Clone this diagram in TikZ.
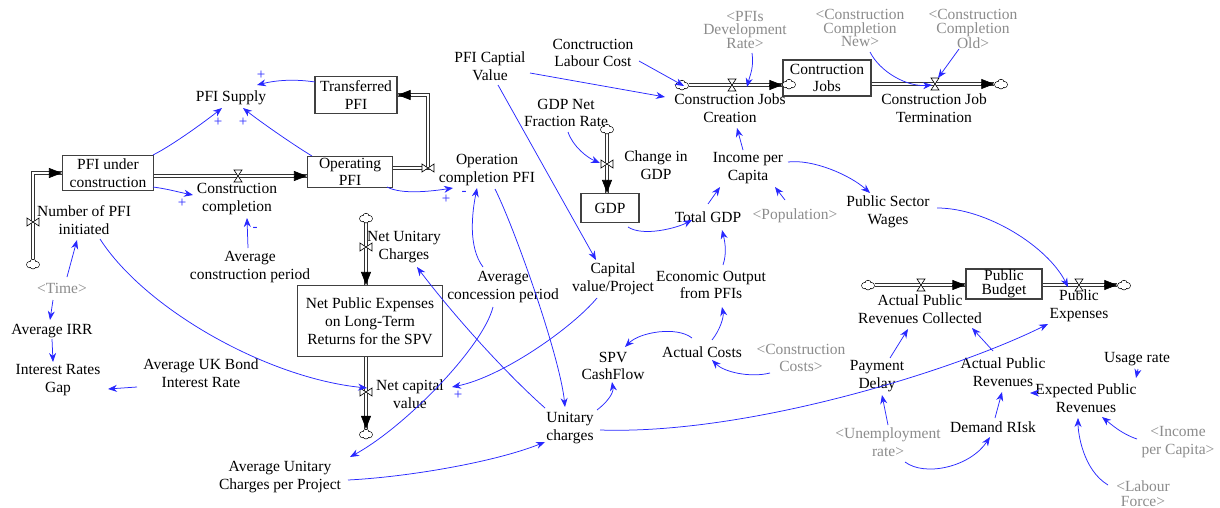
\documentclass[tikz,border=0pt]{standalone}
\usepackage{fontspec}
\setmainfont{Liberation Serif}
\usetikzlibrary{arrows.meta,calc}
\definecolor{lblue}{RGB}{40,40,255}
\definecolor{shgray}{RGB}{140,140,140}
\tikzset{
  lbl/.style={align=center,inner sep=0pt,font=\fontsize{15.5}{17.5}\selectfont},
  shd/.style={lbl,text=shgray},
  shdt/.style={shd,font=\fontsize{15.5}{13.5}\selectfont},
  stock/.style={draw=black!75,line width=1.1pt,align=center,inner sep=0pt,font=\fontsize{15.5}{17.5}\selectfont},
  lnk/.style={draw=lblue,line width=0.75pt,-{Stealth[length=9pt,width=7pt]}},
  pipe/.style={draw=black!80,line width=0.8pt,double=white,double distance=2.2pt},
  ptip/.style={draw=black,line width=0.6pt,-{Triangle[length=13pt,width=10pt]}},
  cldn/.style={shape=rectangle,inner sep=0pt,minimum width=13pt,minimum height=10pt},
  sgn/.style={text=lblue,inner sep=0pt,font=\fontsize{15}{15}\selectfont},
  hvalve/.pic={\draw[fill=white,line width=0.6pt] (-4,-6)--(4,-6)--(-4,6)--(4,6)--cycle;},
  vvalve/.pic={\draw[fill=white,line width=0.6pt] (-6,-4)--(-6,4)--(6,-4)--(6,4)--cycle;},
  cloudpic/.pic={
    \draw[line width=0.7pt,fill=white] (-3.3,0.6) circle (3.1) (0,-1.6) circle (3.1) (3.3,0.6) circle (3.1) (0,2) circle (2.9);
    \fill[white] (-3.3,0.6) circle (2.7) (0,-1.6) circle (2.7) (3.3,0.6) circle (2.7) (0,2) circle (2.5) (0,0.3) circle (2.5);},
}
\begin{document}
\begin{tikzpicture}[x=1pt,y=-1pt]
\useasboundingbox[fill=white] (0,0) rectangle (1220,508);
% stocks
\node[stock,minimum width=91pt,minimum height=35pt] (pfiuc) at (108,173) {PFI under\\construction};
\node[stock,minimum width=85pt,minimum height=31pt] (opfi) at (350,172) {Operating\\PFI};
\node[stock,minimum width=82pt,minimum height=37pt] (tpfi) at (356,95) {Transferred\\PFI};
\node[stock,minimum width=58pt,minimum height=29pt] (gdp) at (610,208) {GDP};
\node[stock,minimum width=88pt,minimum height=36pt] (cjobs) at (827,78) {Contruction\\Jobs};
\node[stock,minimum width=76pt,minimum height=30pt,font=\fontsize{15.5}{14}\selectfont] (pbud) at (1004,284) {Public\\Budget};
\node[stock,minimum width=145pt,minimum height=71pt,font=\fontsize{15.5}{18}\selectfont] (npe) at (370,321) {Net Public Expenses\\on Long-Term\\Returns for the SPV};
% labels
\node[lbl] (pfisup) at (231,98) {PFI Supply};
\node[lbl] (numpfi) at (84,220) {Number of PFI\\initiated};
\node[lbl] (ccomp) at (237,199) {Construction\\completion};
\node[lbl] (acp) at (250,267) {Average\\construction period};
\node[shd] (time) at (62,288) {<Time>};
\node[lbl] (airr) at (52,331) {Average IRR};
\node[lbl] (irg) at (58,380) {Interest Rates\\Gap};
\node[lbl] (aukb) at (201,373) {Average UK Bond\\Interest Rate};
\node[lbl] (aucp) at (280,477) {Average Unitary\\Charges per Project};
\node[lbl] (opc) at (487,170) {Operation\\completion PFI};
\node[lbl] (nuc) at (404,247) {Net Unitary\\Charges};
\node[lbl] (ncv) at (410,394) {Net capital\\value};
\node[lbl] (acon) at (503,287) {Average\\concession period};
\node[lbl] (cvp) at (613,279) {Capital\\value/Project};
\node[lbl] (pcv) at (490,66) {PFI Captial\\Value};
\node[lbl] (clc) at (593,53) {Conctruction\\Labour Cost};
\node[lbl] (gnfr) at (566,113) {GDP Net\\Fraction Rate};
\node[lbl] (cig) at (656,165) {Change in\\GDP};
\node[shdt] (pdr) at (745,30) {<PFIs\\Development\\Rate>};
\node[lbl] (cjc) at (730,108) {Construction Jobs\\Creation};
\node[lbl] (ipc) at (748,168) {Income per\\Capita};
\node[lbl] (tgdp) at (708,217) {Total GDP};
\node[shd] (pop) at (795,216) {<Population>};
\node[lbl] (psw) at (888,212) {Public Sector\\Wages};
\node[shdt] (ccn) at (860,28) {<Construction\\Completion\\New>};
\node[shdt] (cco) at (973,29) {<Construction\\Completion\\Old>};
\node[lbl] (cjt) at (934,108) {Construction Job\\Termination};
\node[lbl] (eop) at (711,285) {Economic Output\\from PFIs};
\node[lbl] (spv) at (613,366) {SPV\\CashFlow};
\node[lbl] (acost) at (702,352) {Actual Costs};
\node[shd] (ccost) at (801,358) {<Construction\\Costs>};
\node[lbl] (uch) at (570,428) {Unitary\\charges};
\node[lbl] (aprc) at (920,309) {Actual Public\\Revenues Collected};
\node[lbl] (pexp) at (1079,306) {Public\\Expenses};
\node[lbl] (pdel) at (877,376) {Payment\\Delay};
\node[lbl] (apr) at (1003,372) {Actual Public\\Revenues};
\node[lbl] (usage) at (1137,359) {Usage rate};
\node[lbl] (epr) at (1086,398) {Expected Public\\Revenues};
\node[lbl] (drisk) at (993,427) {Demand RIsk};
\node[shd] (unemp) at (888,442) {<Unemployment\\rate>};
\node[shd] (ipc2) at (1178,442) {<Income\\per Capita>};
\node[shd,font=\fontsize{15.5}{15}\selectfont] (labour) at (1143,494) {<Labour\\Force>};
% clouds and valve points
\node[cldn] (c1) at (33,264) {};
\node[cldn] (c4) at (366,218) {};
\node[cldn] (c5) at (366,434) {};
\node[cldn] (c6) at (607,129) {};
\node[cldn] (c7) at (682,85) {};
\node[cldn] (c8) at (1001,84) {};
\node[cldn] (c9) at (868,285) {};
\node[cldn] (c10) at (1124,285) {};
\node[cldn] (c7b) at (789,84) {};
\coordinate (v1) at (33,222);
\coordinate (v2) at (238,176);
\coordinate (v3) at (428,168);
\coordinate (v4) at (366,247);
\coordinate (v5) at (366,392);
\coordinate (v6) at (607,164);
\coordinate (v7) at (732,85);
\coordinate (v8) at (935,84);
\coordinate (v9) at (921,285);
\coordinate (v10) at (1079,285);
% pipes
\draw[pipe] (c1.north) -- (c1.north |- pfiuc.west) -- (pfiuc.west);
\draw[ptip] ($(pfiuc.west)+(-13,0)$) -- (pfiuc.west);
\draw[pipe] (pfiuc.east |- v2) -- (opfi.west |- v2);
\draw[ptip] ($(opfi.west |- v2)+(-13,0)$) -- (opfi.west |- v2);
\draw[pipe] (opfi.east |- v3) -- (v3) -- (v3 |- tpfi.east) -- (tpfi.east);
\draw[ptip] ($(tpfi.east)+(13,0)$) -- (tpfi.east);
\draw[pipe] (c4.south) -- (c4.south |- npe.north);
\draw[ptip] ($(c4.south |- npe.north)+(0,-13)$) -- (c4.south |- npe.north);
\draw[pipe] (c4.south |- npe.south) -- (c5.north);
\draw[ptip] ($(c5.north)+(0,-13)$) -- (c5.north);
\draw[pipe] (c6.south) -- (c6.south |- gdp.north);
\draw[ptip] ($(c6.south |- gdp.north)+(0,-13)$) -- (c6.south |- gdp.north);
\draw[pipe] (c7.east) -- (c7.east -| cjobs.west);
\draw[ptip] ($(c7.east -| cjobs.west)+(-13,0)$) -- (c7.east -| cjobs.west);
\draw[pipe] (c8.west -| cjobs.east) -- (c8.west);
\draw[ptip] ($(c8.west)+(-13,0)$) -- (c8.west);
\draw[pipe] (c9.east) -- (c9.east -| pbud.west);
\draw[ptip] ($(c9.east -| pbud.west)+(-13,0)$) -- (c9.east -| pbud.west);
\draw[pipe] (c10.west -| pbud.east) -- (c10.west);
\draw[ptip] ($(c10.west)+(-13,0)$) -- (c10.west);
% clouds
\foreach \c in {c1,c4,c5,c6,c7,c8,c9,c10,c7b} {\pic at (\c) {cloudpic};}
% valves
\pic at (v1) {vvalve};
\pic at (v2) {hvalve};
\pic at (v3) {vvalve};
\pic at (v4) {vvalve};
\pic at (v5) {vvalve};
\pic at (v6) {vvalve};
\pic at (v7) {hvalve};
\pic at (v8) {hvalve};
\pic at (v9) {hvalve};
\pic at (v10) {hvalve};
% links
\draw[lnk] ($(tpfi)+(-41,-13)$) .. controls +(-20,-3) and +(20,-5) .. ($(pfisup)+(26,-13)$);
\draw[lnk] ($(pfiuc)+(45,-18)$) .. controls +(20,-10) and +(-15,12) .. ($(pfisup)+(-9,10)$);
\draw[lnk] ($(opfi)+(-38,-16)$) .. controls +(-20,-12) and +(15,12) .. ($(pfisup)+(12,10)$);
\draw[lnk] ($(pfiuc)+(45,14)$) .. controls +(15,2) and +(-15,-3) .. ($(ccomp)+(-44,-4)$);
\draw[lnk] ($(acp)+(-2,-19)$) -- ($(ccomp)+(10,19)$);
\draw[lnk] ($(opfi)+(37,15)$) .. controls +(15,8) and +(-20,3) .. ($(opc)+(-34,18)$);
\draw[lnk] ($(acon)+(-20,-20)$) .. controls +(-15,-20) and +(-5,25) .. ($(opc)+(-10,18)$);
\draw[lnk] ($(time)+(5,-11)$) -- ($(numpfi)+(-7,20)$);
\draw[lnk] ($(numpfi)+(16,19)$) .. controls +(45,70) and +(-100,-10) .. ($(ncv)+(-43,-6)$);
\draw[lnk] ($(time)+(-9,12)$) -- ($(airr)+(-2,-11)$);
\draw[lnk] ($(airr)+(0,8)$) -- ($(irg)+(-5,-18)$);
\draw[lnk] ($(aukb)+(-64,14)$) -- ($(irg)+(50,9)$);
\draw[lnk] ($(acon)+(-10,20)$) .. controls +(-10,40) and +(55,-30) .. ($(aucp)+(70,-20)$);
\draw[lnk] ($(aucp)+(68,3)$) .. controls +(60,-3) and +(-50,20) .. ($(uch)+(-25,14)$);
\draw[lnk] ($(uch)+(-25,-20)$) .. controls +(-45,-40) and +(30,40) .. ($(nuc)+(13,20)$);
\draw[lnk] ($(opc)+(8,19)$) .. controls +(20,40) and +(-5,-50) .. ($(uch)+(-5,-21)$);
\draw[lnk] ($(pcv)+(8,19)$) -- ($(cvp)+(-17,-19)$);
\draw[lnk] ($(cvp)+(-16,19)$) .. controls +(-25,30) and +(50,-10) .. ($(ncv)+(42,-7)$);
\draw[lnk] ($(pcv)+(40,7)$) -- ($(cjc)+(-65,-11)$);
\draw[lnk] ($(clc)+(46,8)$) -- ($(c7)+(2,1)$);
\draw[lnk] ($(pdr)+(7,23)$) .. controls +(2,15) and +(3,-12) .. ($(v7)+(15,2)$);
\draw[lnk] ($(ipc)+(-5,-18)$) -- ($(cjc)+(7,20)$);
\draw[lnk] ($(gnfr)+(2,19)$) .. controls +(5,15) and +(-12,-5) .. ($(v6)+(-7,-1)$);
\draw[lnk] ($(gdp)+(18,19)$) .. controls +(15,10) and +(-15,8) .. ($(tgdp)+(-16,3)$);
\draw[lnk] ($(tgdp)+(0,-13)$) -- ($(ipc)+(-28,19)$);
\draw[lnk] ($(pop)+(-10,-16)$) -- ($(ipc)+(27,19)$);
\draw[lnk] ($(ipc)+(40,-6)$) .. controls +(25,-3) and +(-20,-18) .. ($(psw)+(-18,-19)$);
\draw[lnk] ($(psw)+(49,-4)$) .. controls +(50,0) and +(-20,-40) .. ($(v10)+(-11,2)$);
\draw[lnk] ($(ccn)+(10,24)$) .. controls +(10,20) and +(-25,2) .. ($(v8)+(-3,1)$);
\draw[lnk] ($(cco)+(-14,20)$) -- ($(v8)+(3,-6)$);
\draw[lnk] ($(eop)+(12,-20)$) .. controls +(4,-12) and +(3,12) .. ($(tgdp)+(14,13)$);
\draw[lnk] ($(acost)+(10,-12)$) .. controls +(8,-10) and +(2,10) .. ($(eop)+(11,22)$);
\draw[lnk] ($(acost)+(-10,-14)$) .. controls +(-15,-12) and +(15,-15) .. ($(spv)+(12,-19)$);
\draw[lnk] ($(ccost)+(-31,15)$) .. controls +(-20,5) and +(12,12) .. ($(acost)+(10,8)$);
\draw[lnk] ($(uch)+(27,-18)$) .. controls +(8,-6) and +(2,12) .. ($(spv)+(-1,16)$);
\draw[lnk] ($(uch)+(30,2)$) .. controls +(150,5) and +(-90,45) .. ($(pexp)+(-31,18)$);
\draw[lnk] ($(pdel)+(13,-18)$) -- ($(aprc)+(-12,20)$);
\draw[lnk] ($(apr)+(-10,-21)$) -- ($(aprc)+(52,19)$);
\draw[lnk] ($(unemp)+(0,-17)$) -- ($(pdel)+(5,19)$);
\draw[lnk] ($(unemp)+(17,20)$) .. controls +(20,15) and +(-20,30) .. ($(drisk)+(-3,10)$);
\draw[lnk] ($(drisk)+(2,-9)$) -- ($(apr)+(-1,20)$);
\draw[lnk] ($(epr)+(-48,-5)$) -- ($(apr)+(27,21)$);
\draw[lnk] ($(usage)+(1,10)$) -- ($(epr)+(50,-20)$);
\draw[lnk] ($(ipc2)+(-41,-3)$) .. controls +(-15,-5) and +(10,8) .. ($(epr)+(16,19)$);
\draw[lnk] ($(labour)+(-35,-9)$) .. controls +(-25,-15) and +(0,15) .. ($(epr)+(-8,20)$);
% signs
\node[sgn] (s1) at (261,75) {+};
\node[sgn] (s2) at (218,122) {+};
\node[sgn] (s3) at (243,122) {+};
\node[sgn] (s4) at (182,203) {+};
\node[sgn] (s5) at (255,229) {-};
\node[sgn] (s6) at (446,199) {+};
\node[sgn] (s7) at (464,193) {-};
\node[sgn] (s8) at (458,395) {+};
\end{tikzpicture}
\end{document}
